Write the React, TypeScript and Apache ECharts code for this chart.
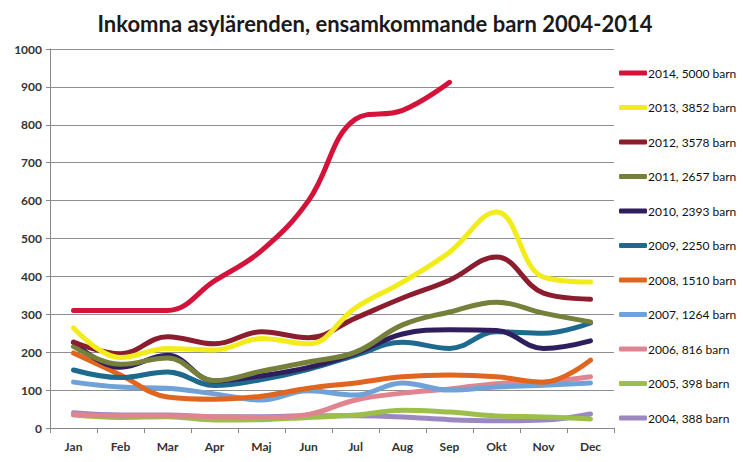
import React, { useEffect, useRef } from "react";
import * as echarts from "echarts";

const months = ["Jan", "Feb", "Mar", "Apr", "Maj", "Jun", "Jul", "Aug", "Sep", "Okt", "Nov", "Dec"];
const yTicks = [0, 100, 200, 300, 400, 500, 600, 700, 800, 900, 1000];

const names = [
  "2014, 5000 barn",
  "2013, 3852 barn",
  "2012, 3578 barn",
  "2011, 2657 barn",
  "2010, 2393 barn",
  "2009, 2250 barn",
  "2008, 1510 barn",
  "2007, 1264 barn",
  "2006, 816 barn",
  "2005, 398 barn",
  "2004, 388 barn",
];

const colors = [
  "#D4123A",
  "#F2EC1B",
  "#8C1D2E",
  "#76803A",
  "#2F1E5E",
  "#1E6A8E",
  "#E0661F",
  "#6FA3D8",
  "#E08590",
  "#9CBF4A",
  "#9C88C0",
];

const y2014 = [310, 310, 310, 388, 468, 600, 815, 838, 912, null, null, null];
const y2013 = [264, 186, 210, 206, 236, 222, 317, 385, 464, 570, 398, 385];
const y2012 = [227, 196, 241, 222, 254, 238, 290, 343, 390, 451, 356, 340];
const y2011 = [215, 168, 185, 125, 150, 174, 200, 272, 306, 332, 303, 280];
const y2010 = [226, 160, 192, 124, 138, 160, 197, 248, 259, 257, 210, 230];
const y2009 = [153, 133, 148, 112, 128, 155, 192, 226, 210, 254, 250, 277];
const y2008 = [198, 140, 82, 76, 84, 105, 119, 135, 140, 135, 121, 179];
const y2007 = [121, 108, 105, 90, 74, 98, 87, 119, 100, 108, 113, 119];
const y2006 = [36, 32, 32, 30, 28, 36, 74, 92, 103, 117, 121, 135];
const y2005 = [34, 28, 30, 21, 22, 28, 34, 47, 42, 32, 29, 24];
const y2004 = [40, 34, 34, 30, 30, 32, 32, 29, 22, 19, 21, 37];

const seriesData = [y2014, y2013, y2012, y2011, y2010, y2009, y2008, y2007, y2006, y2005, y2004];

export default function App() {
  const ref = useRef<HTMLDivElement>(null);
  useEffect(() => {
    if (!ref.current) return;
    const chart = echarts.init(ref.current, null, { renderer: "svg" });
    const font = "Lato, 'Open Sans', sans-serif";
    chart.setOption({
      animation: false,
      backgroundColor: "#ffffff",
      title: {
        text: "Inkomna asylärenden, ensamkommande barn 2004-2014",
        left: 370,
        textAlign: "center",
        top: 7,
        textStyle: { fontFamily: font, fontWeight: "bold", fontSize: 22, color: "#1a1a1a" },
      },
      grid: { left: 50, right: 129, top: 49, bottom: 34, containLabel: false },
      legend: {
        orient: "vertical",
        left: 614,
        top: 61,
        icon: "roundRect",
        itemWidth: 28,
        itemHeight: 5,
        itemGap: 20.5,
        data: names,
        textStyle: { fontFamily: font, fontSize: 12, color: "#111", lineHeight: 14, padding: [0, 0, 0, -4] },
      },
      xAxis: {
        type: "category",
        data: months,
        boundaryGap: true,
        axisLine: { lineStyle: { color: "#888", width: 1 } },
        axisTick: { show: true, lineStyle: { color: "#888" }, length: 5 },
        axisLabel: { fontFamily: font, fontSize: 12, fontWeight: "bold", color: "#333", margin: 12 },
        splitLine: { show: false },
      },
      yAxis: {
        type: "value",
        min: 0,
        max: 1000,
        interval: 100,
        axisLine: { show: true, lineStyle: { color: "#888", width: 1 } },
        axisTick: { show: true, lineStyle: { color: "#888" }, length: 4 },
        axisLabel: {
          fontFamily: font,
          fontSize: 12,
          fontWeight: "bold",
          color: "#333",
          margin: 8,
          formatter: (v: number) => (yTicks.includes(v) ? String(v) : ""),
        },
        splitLine: { show: true, lineStyle: { color: "#8f8f8f", width: 1 } },
      },
      series: seriesData.map((d, i) => ({
        name: names[i],
        type: "line",
        data: d,
        smooth: 0.4,
        showSymbol: false,
        symbol: "none",
        z: 20 - i,
        lineStyle: { color: colors[i], width: 5, cap: "round", join: "round" },
        itemStyle: { color: colors[i] },
      })),
    });
    return () => chart.dispose();
  }, []);
  return (
    <div
      ref={ref}
      style={{ position: "absolute", left: 0, top: 0, width: 743, height: 462, background: "#fff" }}
    />
  );
}
